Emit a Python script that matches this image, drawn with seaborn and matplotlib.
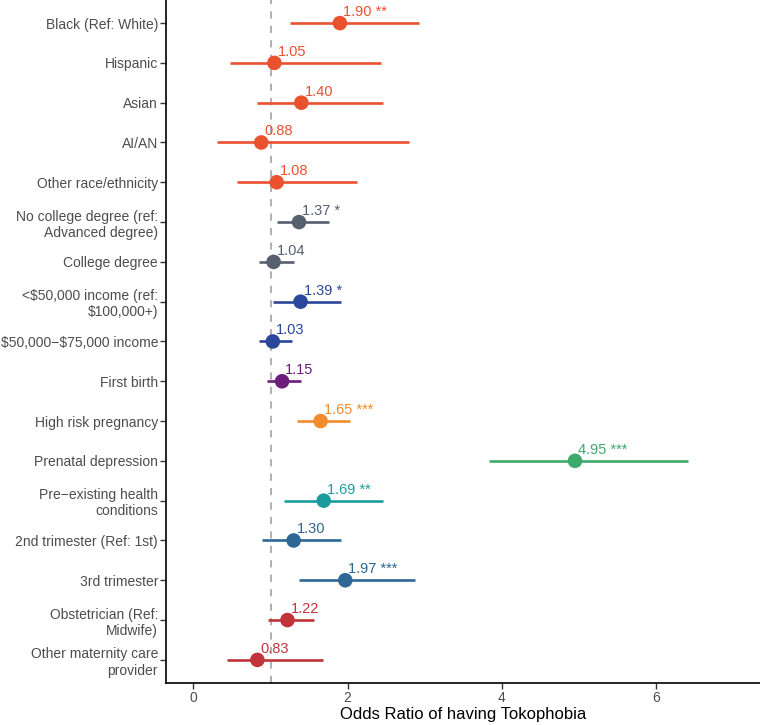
import matplotlib as mpl
import matplotlib.pyplot as plt
import numpy as np
import pandas as pd
import seaborn as sns

# data
labels = [
    "Black (Ref: White)",
    "Hispanic",
    "Asian",
    "AI/AN",
    "Other race/ethnicity",
    "No college degree (ref:\nAdvanced degree)",
    "College degree",
    "<$50,000 income (ref:\n$100,000+)",
    "$50,000\u2212$75,000 income",
    "First birth",
    "High risk pregnancy",
    "Prenatal depression",
    "Pre\u2212existing health\nconditions",
    "2nd trimester (Ref: 1st)",
    "3rd trimester",
    "Obstetrician (Ref:\nMidwife)",
    "Other maternity care\nprovider",
]
odds = [1.90, 1.05, 1.40, 0.88, 1.08, 1.37, 1.04, 1.39, 1.03, 1.15, 1.65, 4.95, 1.69, 1.30, 1.97, 1.22, 0.83]
ci_low = [1.25, 0.47, 0.82, 0.30, 0.57, 1.08, 0.85, 1.03, 0.85, 0.96, 1.35, 3.83, 1.17, 0.89, 1.37, 0.97, 0.43]
ci_high = [2.93, 2.43, 2.46, 2.80, 2.12, 1.76, 1.30, 1.91, 1.28, 1.39, 2.03, 6.41, 2.46, 1.92, 2.87, 1.56, 1.68]
stars = ["**", "", "", "", "", "*", "", "*", "", "", "***", "***", "**", "", "***", "", ""]
groups = ["race"] * 5 + ["edu"] * 2 + ["income"] * 2 + ["parity", "risk", "depression", "health"] + ["trimester"] * 2 + ["provider"] * 2

palette = {
    "race": "#E9512F",
    "edu": "#56606E",
    "income": "#2B479C",
    "parity": "#6B1F7B",
    "risk": "#F28B2C",
    "depression": "#3DAA6C",
    "health": "#1A9C9E",
    "trimester": "#2E6694",
    "provider": "#C0343A",
}

df = pd.DataFrame({
    "label": labels,
    "odds": odds,
    "low": ci_low,
    "high": ci_high,
    "stars": stars,
    "group": groups,
})
df["pos"] = np.arange(len(df))

sns.set_theme(style="white")
plt.rcParams["font.family"] = ["Liberation Sans", "DejaVu Sans"]
plt.rcParams["text.parse_math"] = False

fig = plt.figure(figsize=(7.6, 7.25), dpi=100)
ax = fig.add_axes([0.219, 0.058, 0.781, 0.942])

ax.axvline(1, color="#AAAAAA", linestyle=(0, (4, 4)), linewidth=1.3, zorder=1)

for _, row in df.iterrows():
    ax.hlines(row["pos"], row["low"], row["high"], color=palette[row["group"]], linewidth=1.9, zorder=2)

sns.scatterplot(data=df, x="odds", y="pos", hue="group", palette=palette, s=110,
                edgecolor="none", legend=False, zorder=3, ax=ax)

for _, row in df.iterrows():
    txt = f"{row['odds']:.2f}"
    if row["stars"]:
        txt += " " + row["stars"]
    ax.text(row["odds"] + 0.04, row["pos"] - 0.28, txt, color=palette[row["group"]],
            fontsize=10.5, ha="left", va="center", zorder=4)

ax.set_xlim(-0.35, 7.35)
ax.set_ylim(len(df) - 0.42, -0.58)
ax.set_xticks([0, 2, 4, 6])
ax.set_yticks(df["pos"])
ax.set_yticklabels(df["label"])
ax.set_xlabel("Odds Ratio of having Tokophobia", fontsize=12, color="black", labelpad=1)
ax.set_ylabel("")
ax.tick_params(axis="both", which="major", length=4, width=1, color="#333333",
               labelsize=10, labelcolor="#4D4D4D", bottom=True, left=True, pad=2)
for lab in ax.get_yticklabels():
    lab.set_multialignment("right")
for s in ["top", "right"]:
    ax.spines[s].set_visible(False)
for s in ["left", "bottom"]:
    ax.spines[s].set_color("black")
    ax.spines[s].set_linewidth(1.2)

fig.savefig("out.png", dpi=100)
